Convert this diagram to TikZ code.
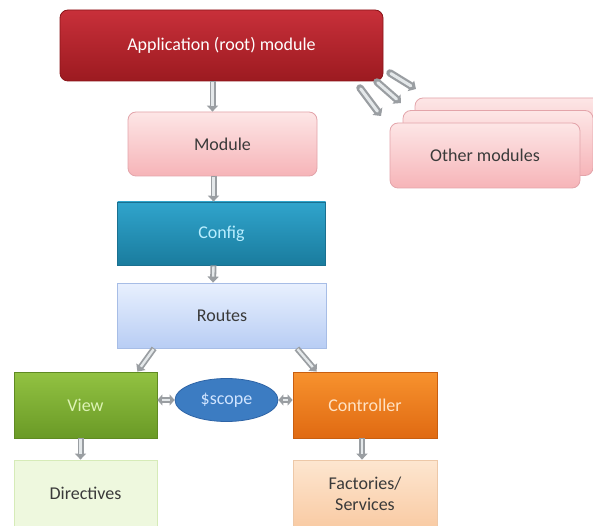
\documentclass[tikz,border=0pt]{standalone}
\usepackage{fontspec}
\setmainfont{Carlito}
\usetikzlibrary{shapes.geometric,arrows.meta}

\definecolor{appTop}{HTML}{C8303A}
\definecolor{appBot}{HTML}{9C1A20}
\definecolor{appLine}{HTML}{8A1418}
\definecolor{modTop}{HTML}{FDE6E6}
\definecolor{modBot}{HTML}{F6B4B8}
\definecolor{modLine}{HTML}{E3A4AA}
\definecolor{cfgTop}{HTML}{30A4CC}
\definecolor{cfgBot}{HTML}{1A7C9E}
\definecolor{cfgLine}{HTML}{1A7090}
\definecolor{cfgText}{HTML}{B8EEFF}
\definecolor{rtTop}{HTML}{E8F0FE}
\definecolor{rtBot}{HTML}{B8CDF4}
\definecolor{rtLine}{HTML}{A7BDE6}
\definecolor{viewTop}{HTML}{92C242}
\definecolor{viewBot}{HTML}{6A9A26}
\definecolor{viewLine}{HTML}{5F8A22}
\definecolor{viewText}{HTML}{DDF3B5}
\definecolor{ctlTop}{HTML}{F7922E}
\definecolor{ctlBot}{HTML}{E06A12}
\definecolor{ctlLine}{HTML}{C85E10}
\definecolor{ctlText}{HTML}{FFE2C4}
\definecolor{scopeFill}{HTML}{3C7CC2}
\definecolor{scopeLine}{HTML}{2E64A6}
\definecolor{scopeText}{HTML}{D0E4FF}
\definecolor{dirFill}{HTML}{EEF8DE}
\definecolor{dirLine}{HTML}{D6EBB8}
\definecolor{facTop}{HTML}{FDE6D0}
\definecolor{facBot}{HTML}{F9CBA4}
\definecolor{facLine}{HTML}{EDC8A8}
\definecolor{darkText}{HTML}{3A3A3A}
\definecolor{arrowOut}{HTML}{9A9EA2}
\definecolor{arrowIn}{HTML}{E4E8EA}

\tikzset{
  box/.style={draw, line width=0.8pt, inner sep=2pt, align=center,
    font=\fontsize{18}{21}\selectfont},
  roundbox/.style={box, rounded corners=8pt},
  blockarrow/.style={line width=6pt, draw=arrowOut,
    -{Triangle[length=6pt,width=11pt]},
    postaction={draw=arrowIn, line width=2.4pt, -, shorten >=6pt, shorten <=1pt}},
  fanarrow/.style={line width=7.5pt, draw=arrowOut, line cap=round,
    -{Triangle[length=6pt,width=12pt]},
    postaction={draw=arrowIn, line width=3pt, -, shorten >=6pt, shorten <=1pt}},
  blockboth/.style={line width=6pt, draw=arrowOut,
    {Triangle[length=5pt,width=11pt]}-{Triangle[length=5pt,width=11pt]},
    postaction={draw=arrowIn, line width=2.4pt, -, shorten >=5pt, shorten <=5pt}},
}

\begin{document}
\begin{tikzpicture}[x=1pt, y=-1pt]
  \useasboundingbox (0,0) rectangle (593,526);
  \fill[white] (0,0) rectangle (593,526);

  % stacked "other modules" cards, back to front
  \node[roundbox, draw=modLine, top color=modTop, bottom color=modBot,
        minimum width=190pt, minimum height=65pt] (other3) at (510,130.5) {};
  \node[roundbox, draw=modLine, top color=modTop, bottom color=modBot,
        minimum width=190pt, minimum height=65pt] (other2) at (498,143) {};
  \node[roundbox, draw=modLine, top color=modTop, bottom color=modBot,
        minimum width=190pt, minimum height=65pt, text=darkText] (other) at (485,155.5) {Other modules};

  % main column
  \node[roundbox, draw=appLine, top color=appTop, bottom color=appBot, text=white,
        minimum width=323pt, minimum height=71pt] (app) at (221.5,45.5) {Application (root) module};
  \node[roundbox, draw=modLine, top color=modTop, bottom color=modBot, text=darkText,
        minimum width=189pt, minimum height=64pt] (module) at (222.5,144) {Module};
  \node[box, draw=cfgLine, top color=cfgTop, bottom color=cfgBot, text=cfgText,
        minimum width=208pt, minimum height=63pt] (config) at (221.5,233.5) {Config};
  \node[box, draw=rtLine, top color=rtTop, bottom color=rtBot, text=darkText,
        minimum width=209pt, minimum height=65pt] (routes) at (222,315.5) {Routes};

  % view / controller row
  \node[box, draw=viewLine, top color=viewTop, bottom color=viewBot, text=viewText,
        minimum width=143pt, minimum height=66pt] (view) at (85.5,405) {View};
  \node[box, draw=ctlLine, top color=ctlTop, bottom color=ctlBot, text=ctlText,
        minimum width=144pt, minimum height=66pt] (ctrl) at (365,405) {Controller};
  \node[ellipse, draw=scopeLine, line width=0.8pt, fill=scopeFill, text=scopeText,
        inner sep=0pt, minimum width=103pt, minimum height=43pt,
        font=\fontsize{18}{21}\selectfont] (scope) at (226.5,400) {\$scope};

  % bottom row
  \node[box, draw=dirLine, fill=dirFill, text=darkText,
        minimum width=143pt, minimum height=67pt] (dir) at (85.5,493.5) {Directives};
  \node[box, draw=facLine, top color=facTop, bottom color=facBot, text=darkText,
        minimum width=144pt, minimum height=67pt] (fac) at (365,493.5) {Factories/\\Services};

  % connectors
  \draw[blockarrow] ([xshift=-9pt]app.south) -- ([xshift=-10pt]module.north);
  \draw[blockarrow] ([xshift=-9pt]module.south) -- ([xshift=-8pt]config.north);
  \draw[blockarrow] ([xshift=-8pt]config.south) -- ([xshift=-9pt]routes.north);
  \draw[blockarrow] ([xshift=37pt]routes.south west) -- ([xshift=-20pt]view.north east);
  \draw[blockarrow] ([xshift=-30pt]routes.south east) -- ([xshift=24pt]ctrl.north west);
  \draw[blockboth] (view.east |- scope.west) -- (scope.west);
  \draw[blockboth] (scope.east) -- (ctrl.west |- scope.east);
  \draw[blockarrow] ([xshift=-5pt]view.south) -- ([xshift=-5pt]dir.north);
  \draw[blockarrow] ([xshift=-3pt]ctrl.south) -- ([xshift=-3pt]fac.north);

  % fan of arrows towards the other modules
  \coordinate (f1s) at (360,88);
  \coordinate (f1e) at (381,116);
  \coordinate (f2s) at (377,82);
  \coordinate (f2e) at (401,103);
  \coordinate (f3s) at (390,73);
  \coordinate (f3e) at (416,89);
  \draw[fanarrow] (f1s) -- (f1e);
  \draw[fanarrow] (f2s) -- (f2e);
  \draw[fanarrow] (f3s) -- (f3e);
\end{tikzpicture}
\end{document}
